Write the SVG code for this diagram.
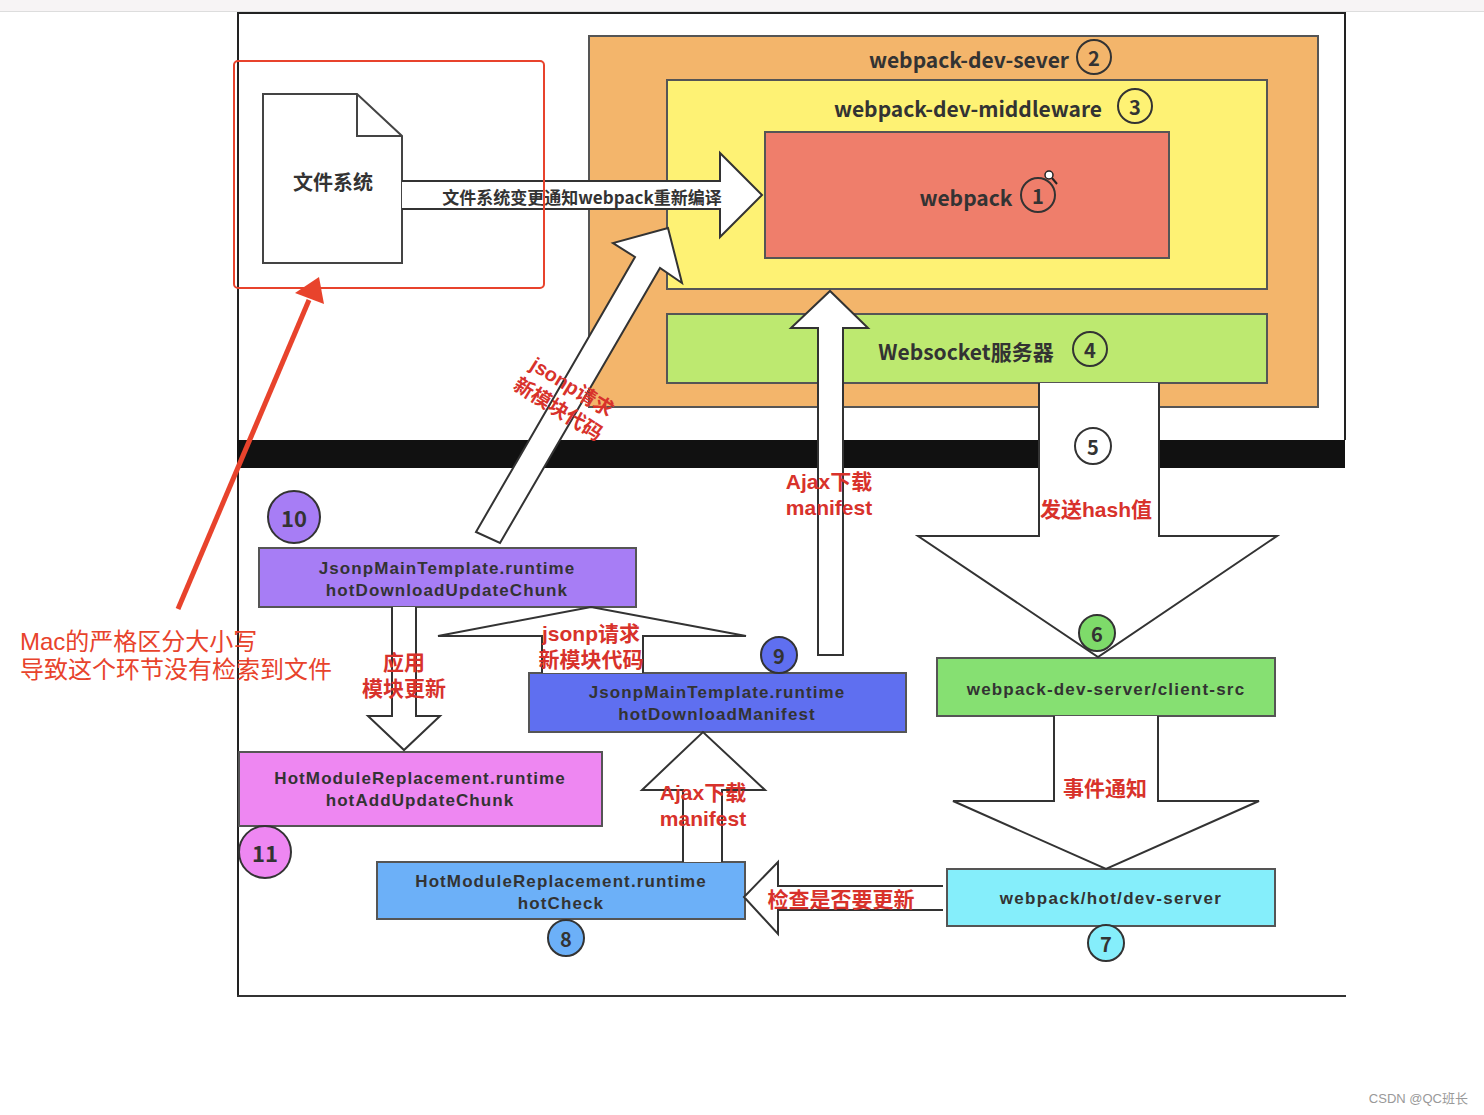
<svg xmlns="http://www.w3.org/2000/svg" width="1484" height="1115" viewBox="0 0 1484 1115">
<style>
.t{font-family:"Noto Sans CJK SC","Noto Sans",sans-serif;font-weight:bold;fill:#333;text-anchor:middle;dominant-baseline:central}
.b{font-family:"Liberation Sans","Noto Sans CJK SC",sans-serif;font-size:17px;letter-spacing:1.1px}
.r{font-family:"Liberation Sans","Noto Sans CJK SC",sans-serif;fill:#d8322b;font-size:21px}
.box{stroke:#555;stroke-width:2}
.arr{fill:#fff;stroke:#333;stroke-width:2;stroke-linejoin:miter}
.num{stroke:#333;stroke-width:2}
.note{font-family:"Liberation Sans","Noto Sans CJK SC",sans-serif;font-size:24px;fill:#e8432c}
</style>
<rect x="0" y="0" width="1484" height="1115" fill="#fff"/>
<rect x="0" y="0" width="1484" height="11" fill="#f7f4f5"/>
<line x1="0" y1="11.5" x2="1484" y2="11.5" stroke="#ddd" stroke-width="1"/>
<g id="frame">
<path d="M238,996 V13 H1345 V440" fill="none" stroke="#222" stroke-width="2"/>
<line x1="237" y1="996" x2="1346" y2="996" stroke="#333" stroke-width="2"/>
<rect x="237" y="440" width="1108" height="28" fill="#111"/>
</g>
<g id="file-system">
<path d="M263,94 H357 L402,136 V263 H263 Z" fill="#fff" stroke="#444" stroke-width="2"/>
<path d="M357,94 V136 H402" fill="none" stroke="#444" stroke-width="2"/>
<text class="t" x="333" y="181" font-size="20">文件系统</text>
</g>
<g id="webpack-dev-server">
<rect class="box" x="589" y="36" width="729" height="371" fill="#f3b56b"/>
<text class="t" x="969" y="59" font-size="21">webpack-dev-sever</text>
<circle class="num" cx="1094" cy="57" r="17" fill="none"/>
<text class="t" x="1094" y="57" font-size="20">2</text>
</g>
<g id="webpack-dev-middleware">
<rect class="box" x="667" y="80" width="600" height="209" fill="#fef274"/>
<text class="t" x="968" y="108" font-size="21">webpack-dev-middleware</text>
<circle class="num" cx="1135" cy="106" r="17" fill="none"/>
<text class="t" x="1135" y="106" font-size="20">3</text>
</g>
<g id="webpack">
<rect class="box" x="765" y="132" width="404" height="126" fill="#ef7e6b"/>
<text class="t" x="966" y="197" font-size="21">webpack</text>
<circle class="num" cx="1038" cy="195" r="17" fill="none"/>
<text class="t" x="1038" y="195" font-size="20">1</text>
<circle cx="1049" cy="175" r="4" fill="#fff" stroke="#222" stroke-width="1.5"/>
<line x1="1052" y1="178" x2="1057" y2="184" stroke="#222" stroke-width="2"/>
</g>
<g id="websocket">
<rect class="box" x="667" y="314" width="600" height="69" fill="#bde970"/>
<text class="t" x="966" y="351" font-size="21">Websocket服务器</text>
<circle class="num" cx="1090" cy="349" r="17" fill="none"/>
<text class="t" x="1090" y="349" font-size="20">4</text>
</g>
<g id="client-src">
<rect class="box" x="937" y="658" width="338" height="58" fill="#86e072"/>
<text class="t b" x="1106" y="689" style="letter-spacing:1.2px">webpack-dev-server/client-src</text>
</g>
<g id="hot-dev-server">
<rect class="box" x="947" y="869" width="328" height="57" fill="#85eefb"/>
<text class="t b" x="1111" y="898" style="letter-spacing:1.3px">webpack/hot/dev-server</text>
<circle class="num" cx="1106" cy="943" r="18" fill="#85eefb"/>
<text class="t" x="1106" y="943" font-size="20">7</text>
</g>
<g id="hot-check">
<rect class="box" x="377" y="862" width="368" height="57" fill="#6cb0f8"/>
<text class="t b"><tspan x="561" y="881">HotModuleReplacement.runtime</tspan><tspan x="561" y="903">hotCheck</tspan></text>
<circle class="num" cx="566" cy="938" r="18" fill="#6cb0f8"/>
<text class="t" x="566" y="938" font-size="20">8</text>
</g>
<g id="hot-download-manifest">
<rect class="box" x="529" y="673" width="377" height="59" fill="#5f6ff0"/>
<text class="t b"><tspan x="717" y="692">JsonpMainTemplate.runtime</tspan><tspan x="717" y="714">hotDownloadManifest</tspan></text>
<circle class="num" cx="779" cy="655" r="18" fill="#5f6ff0"/>
<text class="t" x="779" y="655" font-size="20">9</text>
</g>
<g id="hot-download-update-chunk">
<rect class="box" x="259" y="548" width="377" height="59" fill="#a77df5"/>
<text class="t b"><tspan x="447" y="568">JsonpMainTemplate.runtime</tspan><tspan x="447" y="590">hotDownloadUpdateChunk</tspan></text>
<circle class="num" cx="294" cy="517" r="26" fill="#a77df5"/>
<text class="t" x="294" y="517" font-size="22">10</text>
</g>
<g id="hot-add-update-chunk">
<rect class="box" x="239" y="752" width="363" height="74" fill="#ee87f2"/>
<text class="t b"><tspan x="420" y="778">HotModuleReplacement.runtime</tspan><tspan x="420" y="800">hotAddUpdateChunk</tspan></text>
<circle class="num" cx="265" cy="852" r="26" fill="#ee87f2"/>
<text class="t" x="265" y="852" font-size="22">11</text>
</g>
<g id="connectors">
<path class="arr" d="M402,181 H720 V153 L762,195 L720,237 V209 H402"/>
<polygon class="arr" points="476,532 635,257 613,243 668,228 682,283 660,268 500,543"/>
<path class="arr" d="M818,655 V328 H791 L830,291 L868,328 H843 V655 Z"/>
<path class="arr" d="M1039,383 V536 H918 L1098,657 L1277,536 H1159 V383"/>
<path class="arr" d="M1054,716 V801 H953 L1106,869 L1259,801 H1158 V716"/>
<path class="arr" d="M943,886 H778 V862 L744,897 L778,934 V910 H943"/>
<path class="arr" d="M683,862 V790 H642 L703,732 L765,790 H722 V862"/>
<path class="arr" d="M542,673 V636 H438 L591,607 L746,636 H643 V673"/>
<path class="arr" d="M392,607 V716 H368 L404,750 L440,716 H416 V607"/>
<text class="t" x="582" y="196" font-size="17">文件系统变更通知webpack重新编译</text>
<text class="t r" style="font-size:20px" transform="rotate(32 572 387)"><tspan x="572" y="387">jsonp请求</tspan><tspan x="572" y="413">新模块代码</tspan></text>
<text class="t r"><tspan x="829" y="481">Ajax下载</tspan><tspan x="829" y="507">manifest</tspan></text>
<circle class="num" cx="1093" cy="446" r="18" fill="#fff"/>
<text class="t" x="1093" y="446" font-size="20">5</text>
<text class="t r" x="1096" y="509">发送hash值</text>
<circle class="num" cx="1097" cy="633" r="18" fill="#7edb6a"/>
<text class="t" x="1097" y="633" font-size="20">6</text>
<text class="t r" x="1105" y="788">事件通知</text>
<text class="t r" x="841" y="899">检查是否要更新</text>
<text class="t r"><tspan x="703" y="792">Ajax下载</tspan><tspan x="703" y="818">manifest</tspan></text>
<text class="t r"><tspan x="591" y="633">jsonp请求</tspan><tspan x="591" y="659">新模块代码</tspan></text>
<text class="t r"><tspan x="404" y="662">应用</tspan><tspan x="404" y="688">模块更新</tspan></text>
</g>
<g id="annotation">
<rect x="234" y="61" width="310" height="227" rx="4" fill="none" stroke="#e8432c" stroke-width="2"/>
<line x1="178" y1="609" x2="309" y2="300" stroke="#e8432c" stroke-width="5"/>
<polygon points="319,277 295,293 324,304" fill="#e8432c"/>
<text class="note"><tspan x="20" y="650">Mac的严格区分大小写</tspan><tspan x="20" y="678">导致这个环节没有检索到文件</tspan></text>
</g>
<text x="1468" y="1103" text-anchor="end" font-family="Liberation Sans,Noto Sans CJK SC,sans-serif" font-size="13" fill="#999">CSDN @QC班长</text>
</svg>
